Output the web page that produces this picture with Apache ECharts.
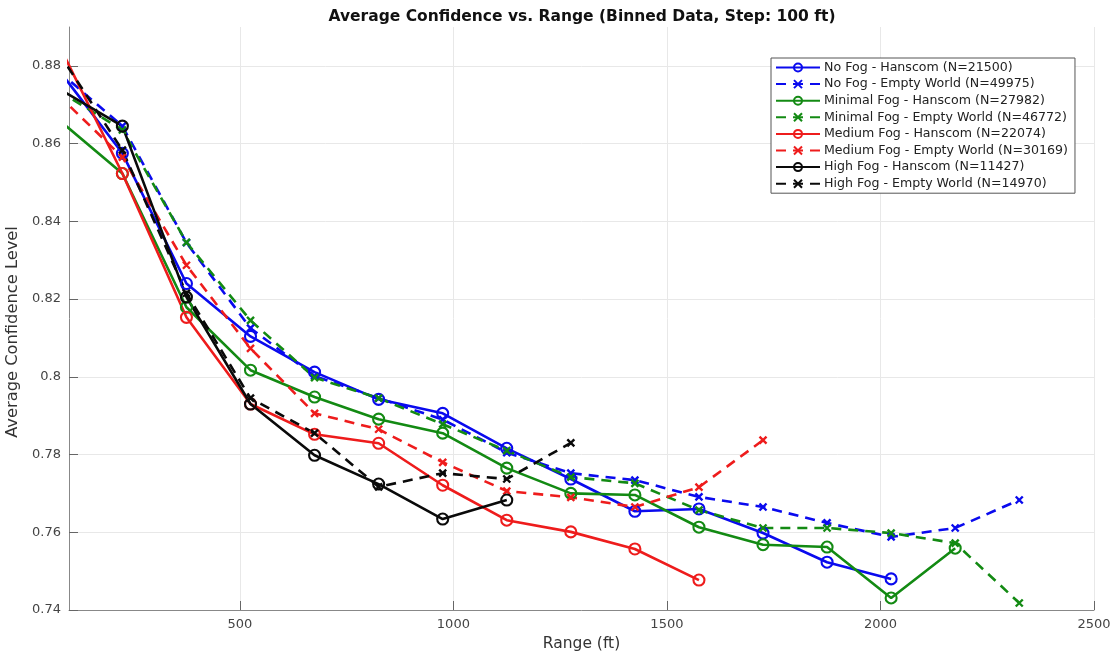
<!DOCTYPE html>
<html>
<head>
<meta charset="utf-8">
<script src="https://cdn.jsdelivr.net/npm/echarts@6/dist/echarts.min.js"></script>
<style>html,body{margin:0;padding:0;background:#fff}#c{width:1116px;height:654px}</style>
</head>
<body>
<div id="c"></div>
<script>
const ranges = [75, 225, 375, 525, 675, 825, 975, 1125, 1275, 1425, 1575, 1725, 1875, 2025, 2175, 2325];
const xTicks = [500, 1000, 1500, 2000, 2500];
const yTicks = [0.74, 0.76, 0.78, 0.80, 0.82, 0.84, 0.86, 0.88];

const noFogHanscom    = [0.8791, 0.8575, 0.8240, 0.8104, 0.8012, 0.7942, 0.7906, 0.7816, 0.7737, 0.7654, 0.7660, 0.7598, 0.7523, 0.7480];
const noFogEmpty      = [0.8787, 0.8645, 0.8345, 0.8125, 0.8002, 0.7945, 0.7890, 0.7805, 0.7752, 0.7734, 0.7691, 0.7665, 0.7624, 0.7588, 0.7611, 0.7683];
const minFogHanscom   = [0.8662, 0.8523, 0.8179, 0.8017, 0.7948, 0.7891, 0.7855, 0.7765, 0.7700, 0.7696, 0.7613, 0.7568, 0.7562, 0.7431, 0.7559];
const minFogEmpty     = [0.8736, 0.8635, 0.8346, 0.8145, 0.7998, 0.7945, 0.7878, 0.7810, 0.7742, 0.7726, 0.7657, 0.7611, 0.7611, 0.7598, 0.7572, 0.7418];
const medFogHanscom   = [0.8857, 0.8523, 0.8153, 0.7930, 0.7852, 0.7829, 0.7721, 0.7631, 0.7601, 0.7557, 0.7477];
const medFogEmpty     = [0.8725, 0.8565, 0.8287, 0.8073, 0.7906, 0.7865, 0.7780, 0.7706, 0.7690, 0.7665, 0.7716, 0.7837];
const highFogHanscom  = [0.8742, 0.8645, 0.8205, 0.7930, 0.7798, 0.7724, 0.7634, 0.7683];
const highFogEmpty    = [0.8835, 0.8583, 0.8215, 0.7945, 0.7855, 0.7717, 0.7752, 0.7737, 0.7830];

const names = [
  'No Fog - Hanscom (N=21500)', 'No Fog - Empty World (N=49975)',
  'Minimal Fog - Hanscom (N=27982)', 'Minimal Fog - Empty World (N=46772)',
  'Medium Fog - Hanscom (N=22074)', 'Medium Fog - Empty World (N=30169)',
  'High Fog - Hanscom (N=11427)', 'High Fog - Empty World (N=14970)'
];
const values = [noFogHanscom, noFogEmpty, minFogHanscom, minFogEmpty, medFogHanscom, medFogEmpty, highFogHanscom, highFogEmpty];
const colors = ['#0a0aee', '#0a0aee', '#138a13', '#138a13', '#ee1c1c', '#ee1c1c', '#0a0a0a', '#0a0a0a'];

const xPath = 'path://M0,0L10,10M10,0L0,10';
const series = names.map((n, i) => {
  const dashed = i % 2 === 1;
  return {
    name: n,
    type: 'line',
    data: values[i].map((v, k) => [ranges[k], v]),
    clip: true,
    symbol: dashed ? xPath : 'circle',
    symbolSize: dashed ? 7 : 11,
    showAllSymbol: true,
    lineStyle: { color: colors[i], width: 2.6, type: dashed ? [10, 7] : 'solid' },
    itemStyle: dashed
      ? { color: colors[i], borderColor: colors[i], borderWidth: 2.4 }
      : { color: 'rgba(255,255,255,0)', borderColor: colors[i], borderWidth: 2.1 },
    emphasis: { disabled: true },
    animation: false
  };
});

const chart = echarts.init(document.getElementById('c'), null, { renderer: 'canvas' });
const font = 'DejaVu Sans';
chart.setOption({
  backgroundColor: '#fff',
  animation: false,
  textStyle: { fontFamily: font },
  title: {
    text: 'Average Confidence vs. Range (Binned Data, Step: 100 ft)',
    left: 577, top: 4, textAlign: 'center',
    textStyle: { fontFamily: font, fontSize: 15.5, fontWeight: 'bold', color: '#111' }
  },
  grid: { left: 69, right: 22, top: 27, bottom: 44, containLabel: false, outerBoundsMode: 'none' },
  legend: {
    orient: 'vertical',
    left: 771, top: 58,
    data: names,
    itemWidth: 44, itemHeight: 10, itemGap: 3.6,
    padding: [3, 7, 3, 4],
    borderColor: '#555', borderWidth: 1, backgroundColor: '#fff',
    textStyle: { fontFamily: font, fontSize: 12.6, color: '#222', padding: [0, 0, 0, -1] }
  },
  xAxis: {
    type: 'value', min: 100, max: 2500,
    name: 'Range (ft)', nameLocation: 'middle', nameGap: 26,
    nameTextStyle: { fontFamily: font, fontSize: 15.5, color: '#333' },
    axisLine: { show: true, onZero: false, lineStyle: { color: '#888', width: 1 } },
    axisTick: { show: true, inside: true, length: 9, customValues: xTicks, lineStyle: { color: '#666' } },
    axisLabel: { customValues: xTicks, fontFamily: font, fontSize: 13, color: '#444', margin: 8,
      formatter: v => String(v) },
    splitLine: { show: true, lineStyle: { color: '#e8e8e8', width: 1 } }
  },
  yAxis: {
    type: 'value', min: 0.74, max: 0.89, interval: 0.02,
    name: 'Average Confidence Level', nameLocation: 'middle', nameGap: 45,
    nameTextStyle: { fontFamily: font, fontSize: 16.3, color: '#333', padding: [0, 27, 0, 0] },
    axisLine: { show: true, onZero: false, lineStyle: { color: '#888', width: 1 } },
    axisTick: { show: true, inside: true, length: 9, customValues: yTicks, lineStyle: { color: '#666' } },
    axisLabel: { customValues: yTicks, fontFamily: font, fontSize: 13, color: '#444', margin: 8,
      formatter: v => String(+(+v).toFixed(2)) },
    splitLine: { show: true, lineStyle: { color: '#e8e8e8', width: 1 } }
  },
  series: series
});
</script>
</body>
</html>
